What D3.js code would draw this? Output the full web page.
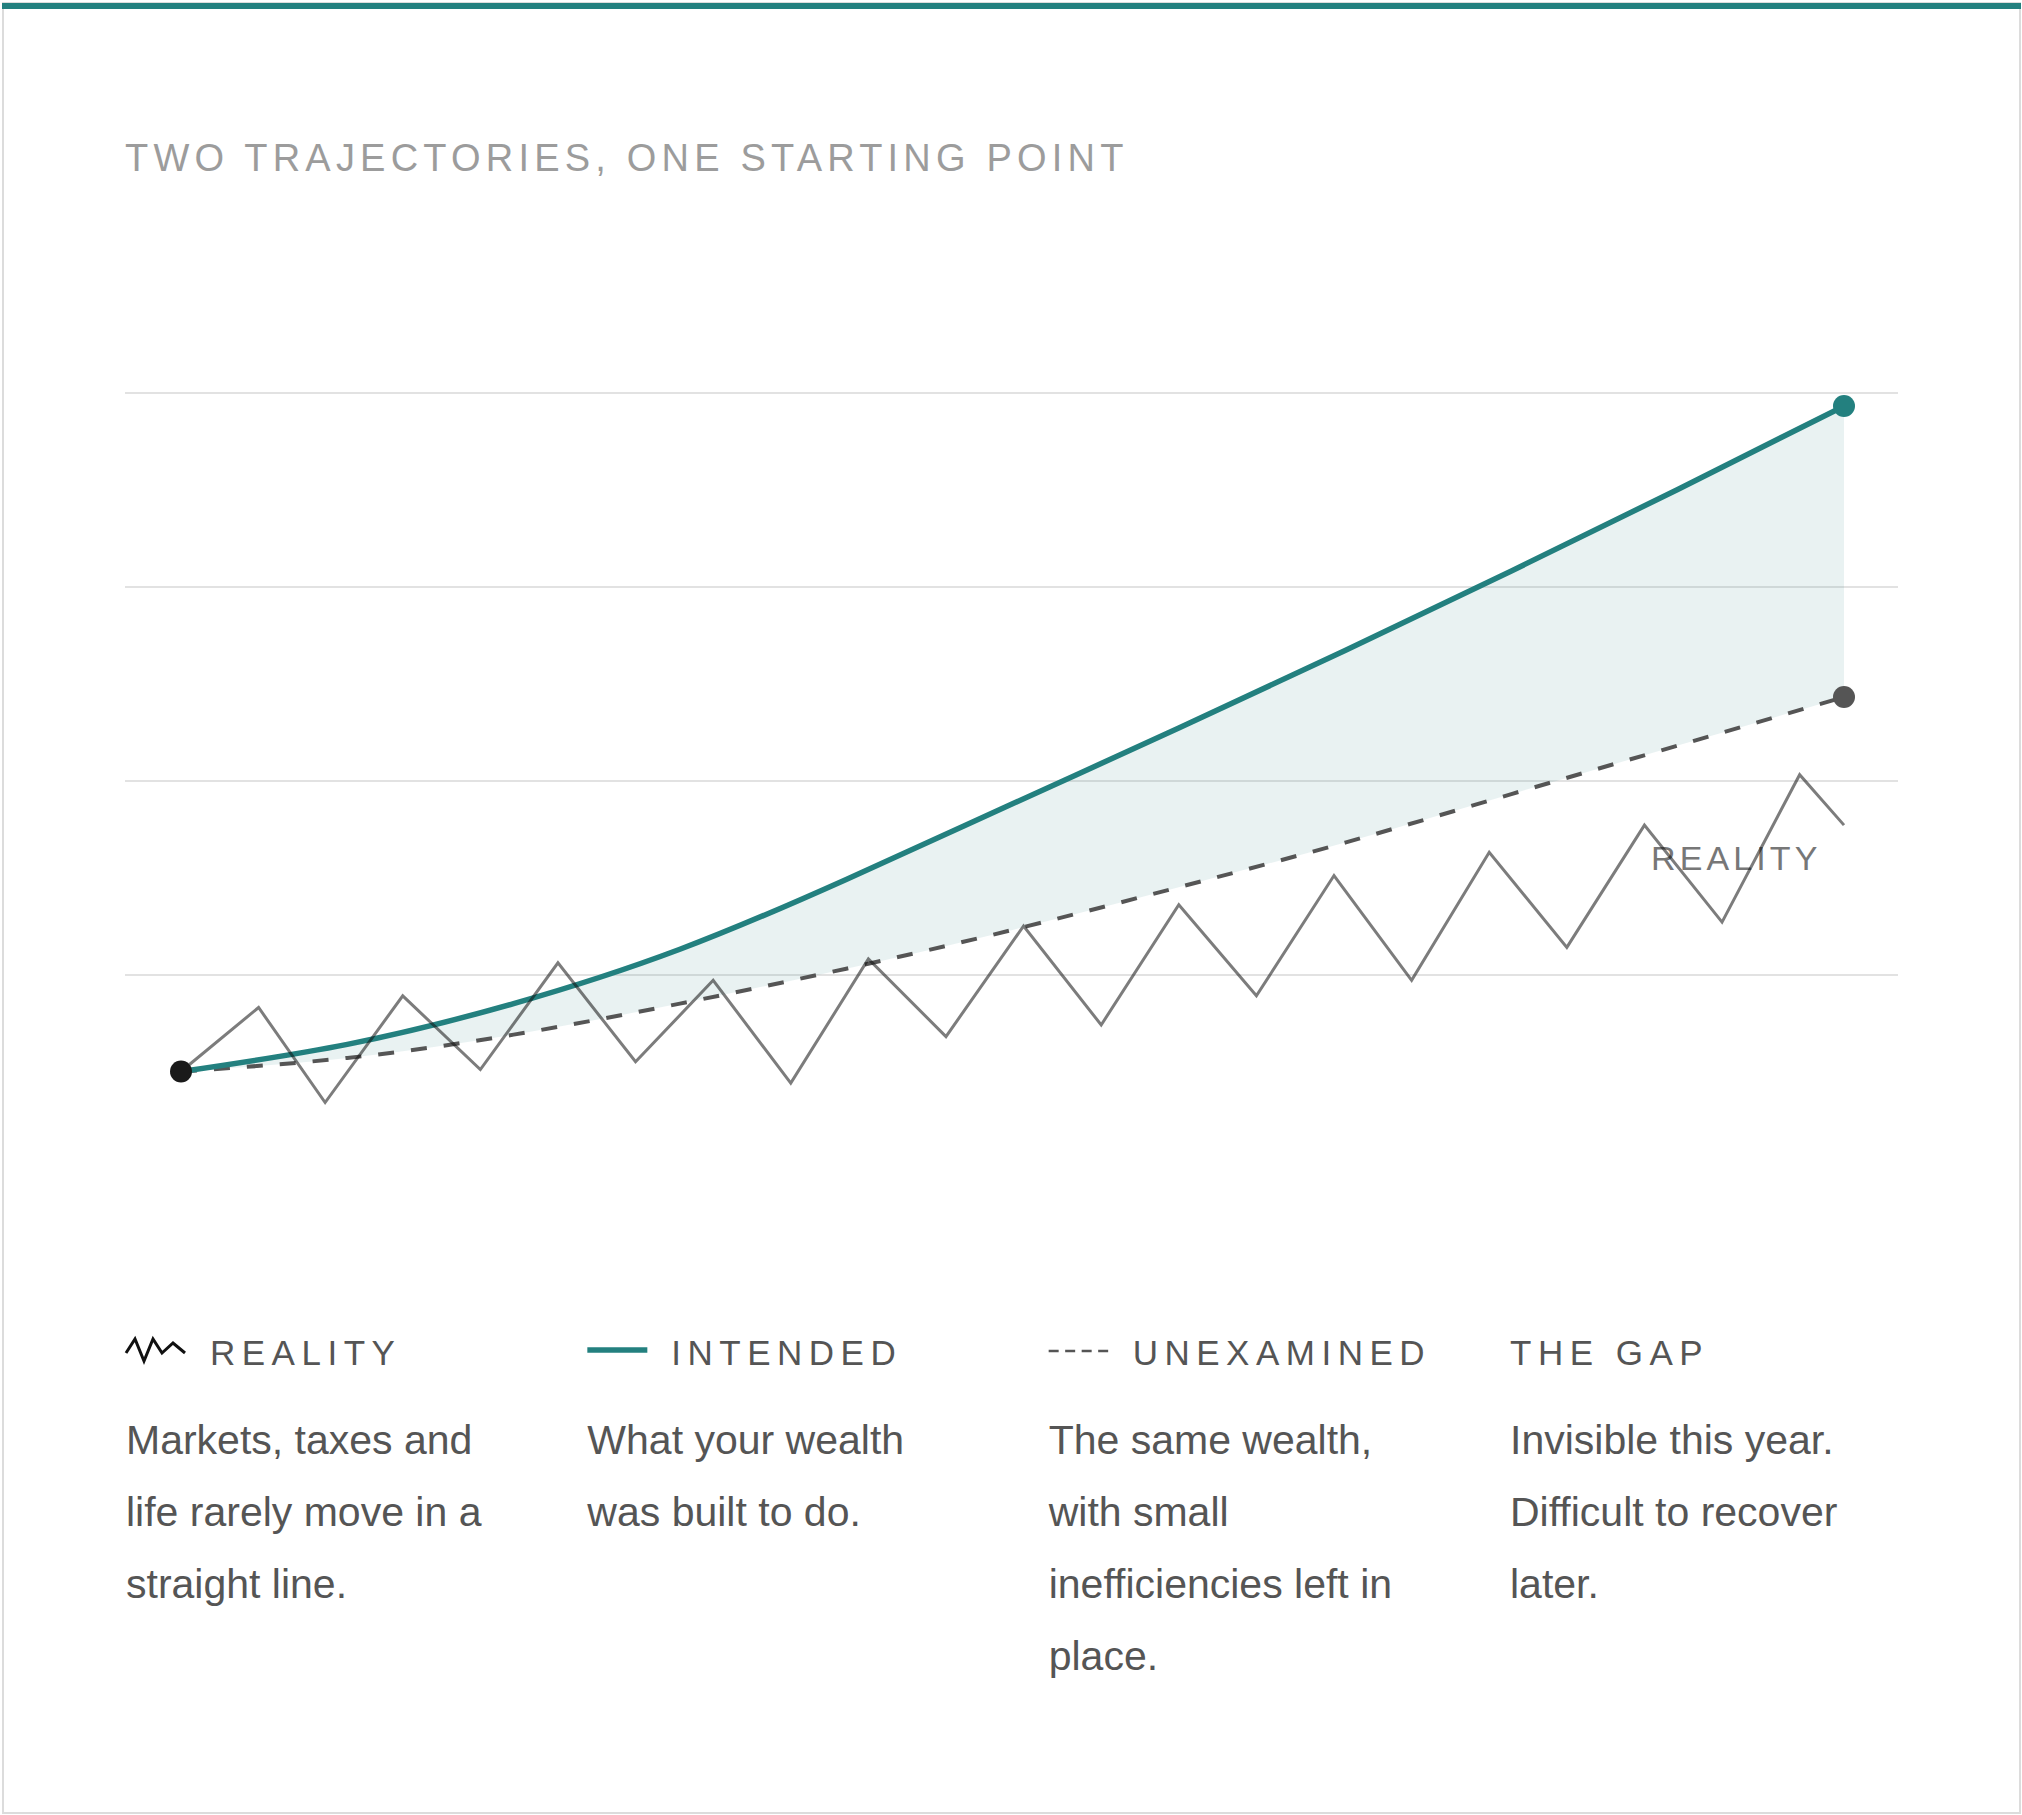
<!DOCTYPE html>
<html>
<head>
<meta charset="utf-8">
<script src="https://cdn.jsdelivr.net/npm/d3@7"></script>
<style>
  html, body { margin: 0; padding: 0; background: #ffffff; }
  svg { display: block; }
</style>
</head>
<body>
<svg id="chart" width="2022" height="1815"></svg>
<script>
// ---------------- DATA ----------------
const title = "TWO TRAJECTORIES, ONE STARTING POINT";

// smooth trajectories (years 0..30)
const years = [0, 3, 6, 9, 12, 15, 18, 21, 24, 27, 30];
const intended = [50, 64, 85, 113, 149, 188, 227, 267, 308, 350, 393];
const unexamined = [50, 57, 69, 85, 103, 123, 145, 168, 193, 218, 243];

// zig-zag "reality" path
const realityYears = [0, 1.4, 2.6, 4.0, 5.4, 6.8, 8.2, 9.6, 11.0, 12.4, 13.8, 15.2,
                      16.6, 18.0, 19.4, 20.8, 22.2, 23.6, 25.0, 26.4, 27.8, 29.2, 30];
const realityValues = [50, 83, 34, 89, 51, 106, 55, 97, 44, 108, 68, 125,
                       74, 136, 89, 151, 97, 163, 114, 177, 127, 203, 177];

const gridTicks = [100, 200, 300, 400];
const realityLabel = "REALITY";

const legendKeys = ["REALITY", "INTENDED", "UNEXAMINED", "THE GAP"];
const legendIcons = ["zigzag", "solid", "dashed", "none"];
const legendNotes = [
  ["Markets, taxes and", "life rarely move in a", "straight line."],
  ["What your wealth", "was built to do."],
  ["The same wealth,", "with small", "inefficiencies left in", "place."],
  ["Invisible this year.", "Difficult to recover", "later."]
];

// ---------------- STYLE ----------------
const TEAL = "#23807f";
const FONT = "'Liberation Sans', Arial, Helvetica, sans-serif";

const svg = d3.select("#chart");

// card
svg.append("rect").attr("x", 3).attr("y", 3).attr("width", 2017).attr("height", 1810)
  .attr("fill", "#ffffff").attr("stroke", "#dcdcdc").attr("stroke-width", 2);
svg.append("rect").attr("x", 2).attr("y", 3).attr("width", 2019).attr("height", 6)
  .attr("fill", TEAL);

// title
svg.append("text").attr("x", 125).attr("y", 171)
  .attr("font-family", FONT).attr("font-size", 38).attr("letter-spacing", 5.2)
  .attr("fill", "#9c9c9c").text(title);

// scales
const x = d3.scaleLinear().domain([0, 30]).range([181, 1844]);
const y = d3.scaleLinear().domain([0, 400]).range([1168.5, 392.5]);

// gridlines via axis
const grid = svg.append("g").attr("transform", "translate(125,0)")
  .call(d3.axisLeft(y).tickValues(gridTicks).tickSize(-1773).tickFormat(""));
grid.select(".domain").remove();
grid.selectAll(".tick line").attr("stroke", "#e2e2e2").attr("stroke-width", 2);

// gap area
const traj = years.map((t, i) => ({ t, hi: intended[i], lo: unexamined[i] }));
const curve = d3.curveNatural;
svg.append("path").datum(traj)
  .attr("d", d3.area().x(d => x(d.t)).y0(d => y(d.lo)).y1(d => y(d.hi)).curve(curve))
  .attr("fill", TEAL).attr("fill-opacity", 0.1);

// reality label
svg.append("text").attr("x", 1651).attr("y", 870)
  .attr("font-family", FONT).attr("font-size", 34).attr("letter-spacing", 4.1)
  .attr("fill", "#777777").text(realityLabel);

// unexamined dashed
svg.append("path").datum(traj)
  .attr("d", d3.line().x(d => x(d.t)).y(d => y(d.lo)).curve(curve))
  .attr("fill", "none").attr("stroke", "#555555").attr("stroke-width", 4)
  .attr("stroke-dasharray", "16 17");

// intended
svg.append("path").datum(traj)
  .attr("d", d3.line().x(d => x(d.t)).y(d => y(d.hi)).curve(curve))
  .attr("fill", "none").attr("stroke", TEAL).attr("stroke-width", 5.5)
  .attr("stroke-linecap", "round");

// reality zigzag
const real = realityYears.map((t, i) => ({ t, v: realityValues[i] }));
svg.append("path").datum(real)
  .attr("d", d3.line().x(d => x(d.t)).y(d => y(d.v)))
  .attr("fill", "none").attr("stroke", "#111111").attr("stroke-opacity", 0.55)
  .attr("stroke-width", 3).attr("stroke-linejoin", "miter");

// dots
const last = years.length - 1;
svg.append("circle").attr("cx", x(years[0])).attr("cy", y(intended[0])).attr("r", 11).attr("fill", "#1a1a1a");
svg.append("circle").attr("cx", x(years[last])).attr("cy", y(intended[last])).attr("r", 11).attr("fill", TEAL);
svg.append("circle").attr("cx", x(years[last])).attr("cy", y(unexamined[last])).attr("r", 11).attr("fill", "#555555");

// ---------------- LEGEND ----------------
const colX = d3.scalePoint().domain(d3.range(legendKeys.length)).range([126, 1510]);
const headerY = 1365, bodyY = 1454, lineH = 72;

legendKeys.forEach((key, i) => {
  const g = svg.append("g").attr("transform", `translate(${colX(i)},0)`);
  const icon = legendIcons[i];
  let tx = 84;
  if (icon === "zigzag") {
    const pts = [[0, 1353], [9, 1339], [18, 1361], [27, 1339], [36, 1353], [47, 1343], [59, 1353]];
    g.append("path").attr("d", d3.line()(pts)).attr("fill", "none")
      .attr("stroke", "#111111").attr("stroke-width", 3).attr("stroke-linejoin", "miter");
  } else if (icon === "solid") {
    g.append("line").attr("x1", 0).attr("x2", 60).attr("y1", 1350).attr("y2", 1350)
      .attr("stroke", TEAL).attr("stroke-width", 5.5);
  } else if (icon === "dashed") {
    g.append("line").attr("x1", 0).attr("x2", 60).attr("y1", 1351).attr("y2", 1351)
      .attr("stroke", "#555555").attr("stroke-width", 2.5).attr("stroke-dasharray", "10 6.5");
  } else {
    tx = 0;
  }
  g.append("text").attr("x", tx).attr("y", headerY)
    .attr("font-family", FONT).attr("font-size", 35).attr("letter-spacing", 6.5)
    .attr("fill", "#555555").text(key);
  const body = g.append("text").attr("font-family", FONT).attr("font-size", 41).attr("fill", "#555555");
  legendNotes[i].forEach((ln, j) => {
    body.append("tspan").attr("x", 0).attr("y", bodyY + j * lineH).text(ln);
  });
});
</script>
</body>
</html>
